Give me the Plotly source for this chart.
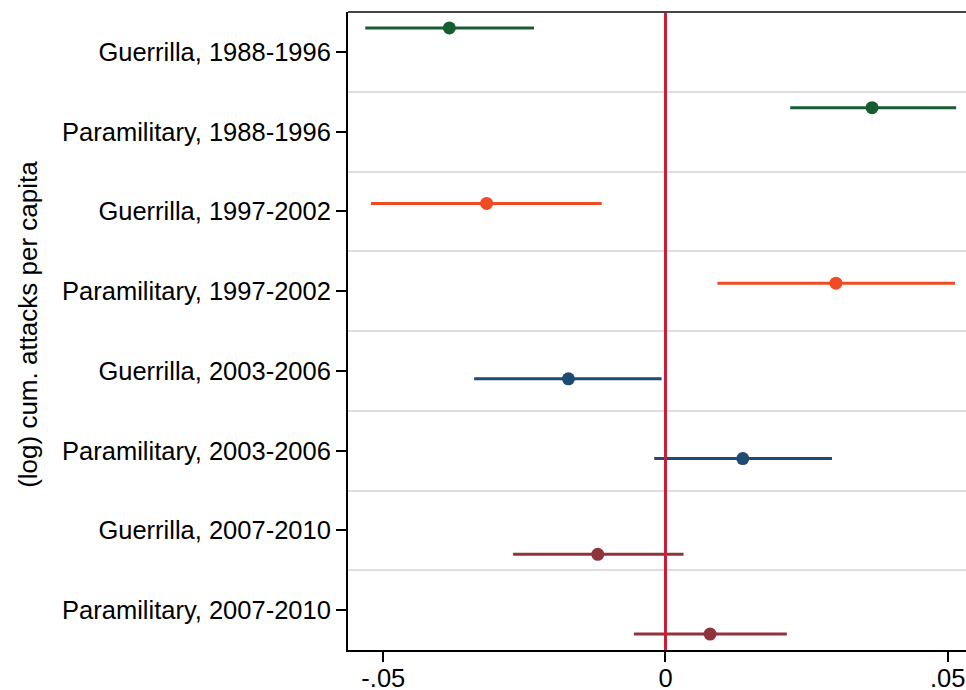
import plotly.graph_objects as go

# ---- data ----
periods = ["1988-1996", "1997-2002", "2003-2006", "2007-2010"]
groups = ["Guerrilla", "Paramilitary"]

guerrilla_est = [-0.0383, -0.0317, -0.0172, -0.0120]
guerrilla_lo = [-0.0532, -0.0522, -0.0339, -0.0270]
guerrilla_hi = [-0.0233, -0.0113, -0.0007, 0.0032]

paramilitary_est = [0.0366, 0.0302, 0.0137, 0.0079]
paramilitary_lo = [0.0221, 0.0092, -0.0020, -0.0056]
paramilitary_hi = [0.0515, 0.0513, 0.0295, 0.0215]

x_ticks = [-0.05, 0, 0.05]
x_ticktext = ["-.05", "0", ".05"]
y_title = "(log) cum. attacks per capita"

# ---- styling ----
colors = ["rgb(22,94,48)", "rgb(240,76,36)", "rgb(30,74,115)", "rgb(144,52,60)"]
model_offsets = [-0.3, -0.1, 0.1, 0.3]
FONT = "Liberation Sans, Arial, Helvetica, sans-serif"

labels = []
for p in periods:
    for g in groups:
        labels.append(f"{g}, {p}")

fig = go.Figure()
for k, p in enumerate(periods):
    est = [guerrilla_est[k], paramilitary_est[k]]
    lo = [guerrilla_lo[k], paramilitary_lo[k]]
    hi = [guerrilla_hi[k], paramilitary_hi[k]]
    ypos = [2 * k + 1 + model_offsets[k], 2 * k + 2 + model_offsets[k]]
    fig.add_trace(go.Scatter(
        x=est, y=ypos, mode="markers",
        marker=dict(size=13, color=colors[k]),
        error_x=dict(type="data", symmetric=False,
                     array=[h - e for h, e in zip(hi, est)],
                     arrayminus=[e - l for e, l in zip(est, lo)],
                     color=colors[k], thickness=3, width=0),
        showlegend=False, cliponaxis=False,
    ))

fig.add_vline(x=0, line=dict(color="rgb(200,30,55)", width=3), layer="above")
fig.add_shape(type="line", xref="paper", yref="paper", x0=0, x1=1, y0=1, y1=1,
              line=dict(color="rgb(70,70,70)", width=2))

# y-axis title as a rotated annotation (placed a touch above the plot centre)
fig.add_annotation(text=y_title, textangle=-90, xref="paper", yref="paper",
                   x=-0.518, y=0.511, xanchor="center", yanchor="middle",
                   showarrow=False, font=dict(size=26, color="black"))

fig.update_layout(
    width=966, height=690,
    margin=dict(l=348, r=0, t=12, b=40, autoexpand=False),
    paper_bgcolor="white", plot_bgcolor="white",
    font=dict(family=FONT, size=25.5, color="black"),
    xaxis=dict(range=[-0.05626, 0.05325], tickvals=x_ticks, ticktext=x_ticktext,
               automargin=False, ticklabelstandoff=-6,
               showgrid=False, zeroline=False, showline=True, linecolor="black",
               linewidth=2, ticks="outside", ticklen=10, tickwidth=2,
               tickcolor="black", tickfont=dict(size=25.5)),
    yaxis=dict(range=[8.5, 0.5], tickvals=list(range(1, 9)), ticktext=labels,
               automargin=False,
               showgrid=False, zeroline=False, showline=True, linecolor="black",
               linewidth=2, ticks="outside", ticklen=10, tickwidth=2,
               tickcolor="black", tickfont=dict(size=25.5),
               minor=dict(tick0=0.5, dtick=1, showgrid=True,
                          gridcolor="rgb(222,222,222)", gridwidth=2, ticks="")),
)

fig.write_html(
    "out.html",
    config={"displayModeBar": False},
    post_script="document.documentElement.style.margin='0';"
                "document.body.style.margin='0';"
                "document.body.style.overflow='hidden';",
)
